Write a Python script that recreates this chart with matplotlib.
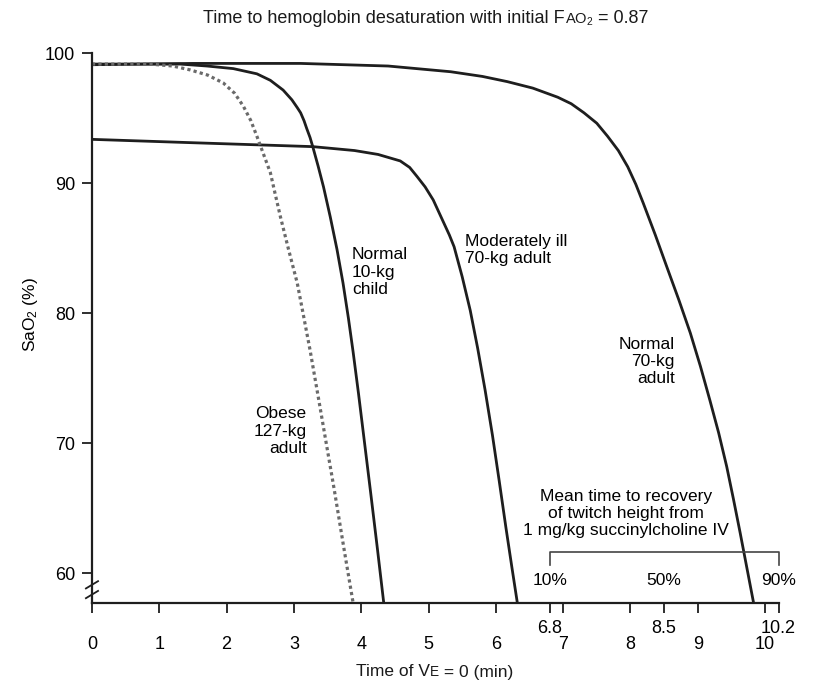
import matplotlib
matplotlib.use("Agg")
import matplotlib.pyplot as plt
from matplotlib.offsetbox import TextArea, HPacker, AnnotationBbox

plt.rcParams['font.family'] = ['Liberation Sans', 'DejaVu Sans']

# curves: time (min), SaO2 (%)
adult_t = [0, 1.5, 3.1, 4.4, 5.33, 5.8, 6.17, 6.55, 6.92, 7.12, 7.31, 7.5, 7.66, 7.82, 7.96, 8.08,
           8.19, 8.37, 8.54, 8.72, 8.89, 9.04, 9.18, 9.31, 9.43, 9.53, 9.63, 9.73, 9.83]
adult_s = [99.1, 99.2, 99.2, 99.0, 98.56, 98.2, 97.8, 97.3, 96.6, 96.1, 95.4, 94.6, 93.6, 92.5, 91.25, 89.9,
           88.46, 86.0, 83.56, 81.0, 78.46, 75.9, 73.3, 70.8, 68.2, 65.7, 63.1, 60.4, 57.7]

ill_t = [0, 1.5, 3.28, 3.9, 4.25, 4.58, 4.72, 4.83, 4.95, 5.07, 5.15, 5.23, 5.31, 5.38, 5.50,
         5.62, 5.73, 5.84, 5.95, 6.05, 6.15, 6.24, 6.32]
ill_s = [93.36, 93.1, 92.8, 92.5, 92.2, 91.7, 91.2, 90.5, 89.7, 88.7, 87.8, 86.9, 86.0, 85.1, 82.8,
         80.2, 77.3, 74.1, 70.6, 67.1, 63.5, 60.4, 57.7]

child_t = [0, 1.31, 1.71, 2.1, 2.45, 2.65, 2.84, 2.97, 3.05, 3.10, 3.15, 3.19, 3.24, 3.28, 3.36, 3.44,
           3.54, 3.64, 3.73, 3.81, 3.88, 3.96, 4.05, 4.14, 4.24, 4.335]
child_s = [99.15, 99.15, 99.0, 98.8, 98.4, 97.9, 97.15, 96.4, 95.8, 95.4, 94.8, 94.2, 93.5, 92.8, 91.3, 89.7,
           87.4, 84.9, 82.3, 79.6, 77.0, 73.8, 70.0, 66.2, 61.9, 57.7]

obese_t = [0, 0.86, 1.2, 1.46, 1.72, 1.95, 2.12, 2.25, 2.36, 2.45, 2.55, 2.65, 2.72, 2.80, 2.92, 3.05,
           3.15, 3.24, 3.36, 3.48, 3.60, 3.74, 3.88]
obese_s = [99.15, 99.15, 99.0, 98.7, 98.3, 97.7, 96.9, 95.9, 94.8, 93.6, 92.2, 90.8, 89.2, 87.4, 84.9, 82.3,
           79.6, 77.15, 73.6, 70.0, 66.4, 62.0, 57.7]

x_major = list(range(0, 11))
x_extra = [6.8, 8.5, 10.2]
y_ticks = [60, 70, 80, 90, 100]
recovery_t = [6.8, 8.5, 10.2]
recovery_labels = ['10%', '50%', '90%']

fig = plt.figure(figsize=(8.22, 6.85), dpi=100)
ax = fig.add_axes([0.1119, 0.1197, 0.8352, 0.8029])

ink = '#1e1e1e'
for t, s in [(adult_t, adult_s), (ill_t, ill_s), (child_t, child_s)]:
    ax.plot(t, s, color=ink, lw=2.0, solid_capstyle='butt', solid_joinstyle='round')
ax.plot(obese_t, obese_s, color='#6a6a6a', lw=2.3, linestyle=(0, (1, 1)),
        dash_capstyle='butt')

ax.set_xlim(0, 10.2)
ax.set_ylim(57.7, 100)

for side in ['top', 'right']:
    ax.spines[side].set_visible(False)
for side in ['left', 'bottom']:
    ax.spines[side].set_linewidth(1.6)
    ax.spines[side].set_color(ink)

ax.set_xticks(x_major)
ax.set_xticks(x_extra, minor=True, labels=[str(v) for v in x_extra])
ax.set_yticks(y_ticks)
ax.tick_params(axis='x', which='major', length=7, width=1.3, pad=17,
               labelsize=13, color=ink)
ax.tick_params(axis='x', which='minor', length=7, width=1.3, pad=5,
               labelsize=13, color=ink)
ax.tick_params(axis='y', length=7, width=1.3, pad=5, labelsize=13, color=ink)

# axis break on the y axis
for yb in [59.1, 58.35]:
    ax.plot([-0.09, 0.09], [yb - 0.28, yb + 0.28], color=ink, lw=1.3, clip_on=False)

# recovery bracket
ax.plot([recovery_t[0], recovery_t[0], recovery_t[-1], recovery_t[-1]],
        [60.6, 61.65, 61.65, 60.6], color='#444444', lw=1.2, clip_on=False)
for t, lab in zip(recovery_t, recovery_labels):
    ax.text(t, 59.45, lab, ha='center', va='center', fontsize=12.5)

ax.text(7.93, 64.6, 'Mean time to recovery\nof twitch height from\n1 mg/kg succinylcholine IV',
        ha='center', va='center', multialignment='center', fontsize=12.5, linespacing=1.15)

ax.text(3.86, 83.15, 'Normal\n10-kg\nchild', ha='left', va='center', fontsize=12.5, linespacing=1.2)
ax.text(5.54, 84.85, 'Moderately ill\n70-kg adult', ha='left', va='center', fontsize=12.5, linespacing=1.2)
ax.text(8.66, 76.27, 'Normal\n70-kg\nadult', ha='right', va='center', multialignment='right',
        fontsize=12.5, linespacing=1.2)
ax.text(3.19, 70.9, 'Obese\n127-kg\nadult', ha='right', va='center', multialignment='right',
        fontsize=12.5, linespacing=1.2)

fig.text(30 / 822, 1 - 315 / 685, r'SaO$\mathregular{_2}$ (%)', rotation=90,
         ha='center', va='center', fontsize=12.5)


def packed(pieces, xy):
    kids = [TextArea(s, textprops=dict(size=sz, color='#1a1a1a')) for s, sz in pieces]
    box = HPacker(children=kids, align='baseline', pad=0, sep=0)
    ab = AnnotationBbox(box, xy, xycoords='figure fraction', frameon=False,
                        box_alignment=(0.5, 0.5), pad=0)
    fig.add_artist(ab)


packed([('Time to hemoglobin desaturation with initial F', 13),
        (r'$\mathregular{AO_2}$', 10.5), (' = 0.87', 13)], (426 / 822, 1 - 19 / 685))
packed([('Time of V', 12.5), ('E', 9.8), (' = 0 (min)', 12.5)], (435 / 822, 1 - 672 / 685))

fig.savefig('out.png', dpi=100, facecolor='white')
